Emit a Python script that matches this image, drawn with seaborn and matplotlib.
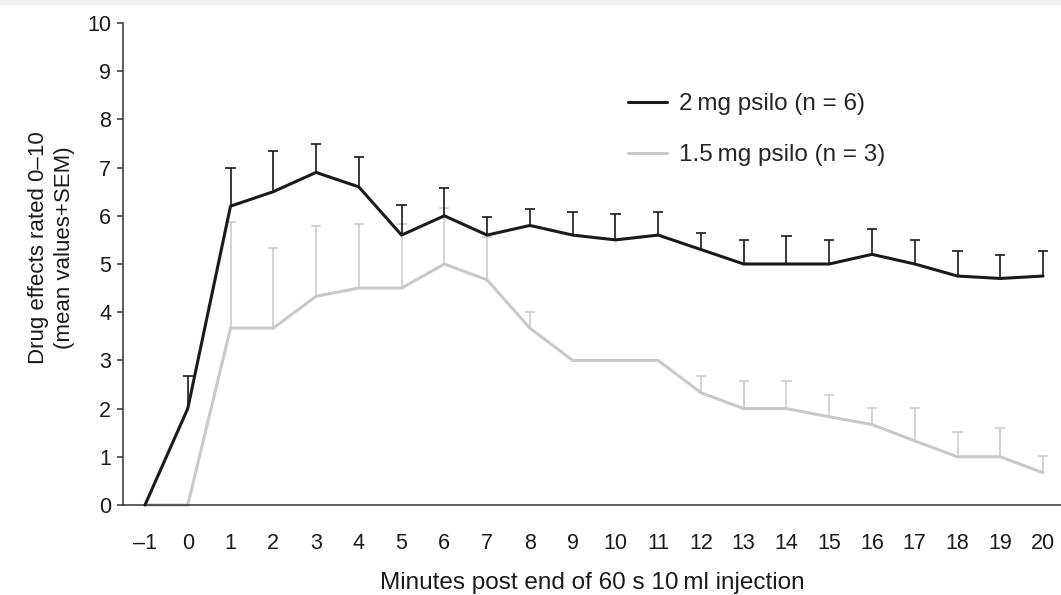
import numpy as np
import pandas as pd
import matplotlib
matplotlib.use("Agg")
import matplotlib.pyplot as plt
import seaborn as sns

minutes = list(range(-1, 21))

# 2 mg group: means and top of mean+SEM bars
high_mean = [0, 2.0, 6.2, 6.5, 6.9, 6.6, 5.6, 6.0, 5.6, 5.8, 5.6, 5.5, 5.6, 5.3,
             5.0, 5.0, 5.0, 5.2, 5.0, 4.75, 4.7, 4.75]
high_top = [np.nan, 2.68, 6.99, 7.34, 7.49, 7.22, 6.22, 6.58, 5.97, 6.14, 6.08, 6.03,
            6.08, 5.64, 5.5, 5.58, 5.5, 5.73, 5.5, 5.28, 5.19, 5.27]

# 1.5 mg group
low_mean = [0, 0, 3.67, 3.67, 4.33, 4.5, 4.5, 5.0, 4.67, 3.67, 3.0, 3.0, 3.0, 2.33,
            2.0, 2.0, 1.83, 1.67, 1.33, 1.0, 1.0, 0.67]
low_top = [np.nan, np.nan, 5.87, 5.33, 5.79, 5.83, 5.83, 6.16, 5.56, 4.0, np.nan,
           np.nan, np.nan, 2.68, 2.58, 2.58, 2.28, 2.01, 2.01, 1.52, 1.6, 1.02]

high_label = "2\u2009mg psilo (n = 6)"
low_label = "1.5\u2009mg psilo (n = 3)"

df_high = pd.DataFrame({"minute": minutes, "mean": high_mean, "top": high_top})
df_low = pd.DataFrame({"minute": minutes, "mean": low_mean, "top": low_top})

sns.set_style("ticks")
plt.rcParams["font.family"] = ["Liberation Sans", "DejaVu Sans"]

black = "#1a1a1a"
grey = "#c9c9c9"
cap = 0.12

fig = plt.figure(figsize=(10.61, 5.95), dpi=100)
ax = fig.add_axes([123 / 1061, 90 / 595, 938 / 1061, 482 / 595])


def sem_bars(df, color, lw, z):
    d = df.dropna(subset=["top"])
    ax.vlines(d["minute"], d["mean"], d["top"], color=color, lw=lw, zorder=z)
    ax.hlines(d["top"], d["minute"] - cap, d["minute"] + cap, color=color, lw=lw, zorder=z)


sem_bars(df_low, grey, 1.1, 1.5)
sns.lineplot(data=df_low, x="minute", y="mean", color=grey, lw=2.2, label=low_label,
             ax=ax, zorder=2, clip_on=False)
sem_bars(df_high, black, 1.2, 2.5)
sns.lineplot(data=df_high, x="minute", y="mean", color=black, lw=2.2, label=high_label,
             ax=ax, zorder=3, clip_on=False)

ax.set_xlim(-1.514, 20.42)
ax.set_ylim(0, 10)
ax.set_xticks(minutes)
ax.set_xticklabels([str(m).replace("-", "\u2013") for m in minutes])
ax.set_yticks(range(0, 11))

sns.despine(ax=ax)
for s in ["left", "bottom"]:
    ax.spines[s].set_color("#333333")
    ax.spines[s].set_linewidth(1.1)
ax.tick_params(axis="x", length=0, pad=20, labelsize=15.5, colors="#1a1a1a")
ax.tick_params(axis="y", length=4.5, width=1.1, pad=4, labelsize=15.5, colors="#1a1a1a")
ax.tick_params(axis="y", color="#333333")

ax.set_xlabel("Minutes post end of 60 s 10\u2009ml injection", fontsize=17.5, va="center",
              color="#1a1a1a")
ax.xaxis.set_label_coords(0.5, -0.162)
ax.set_ylabel("Drug effects rated 0\u201310\n(mean values+SEM)", fontsize=16, va="center",
              linespacing=1.3, color="#1a1a1a")
ax.yaxis.set_label_coords(-0.076, 0.533)

handles, labels = ax.get_legend_handles_labels()
ax.legend(handles[::-1], labels[::-1], frameon=False, fontsize=17.5, loc="upper left",
          bbox_to_anchor=(628 / 1061, 1 - 93 / 595), bbox_transform=fig.transFigure,
          handlelength=1.6, handletextpad=0.5, labelspacing=1.2, borderaxespad=0,
          borderpad=0)

fig.patches.append(plt.Rectangle((0, 1 - 4 / 595), 1, 4 / 595, transform=fig.transFigure,
                                 color="#f2f2f2", zorder=0))

fig.savefig("out.png", dpi=100)
